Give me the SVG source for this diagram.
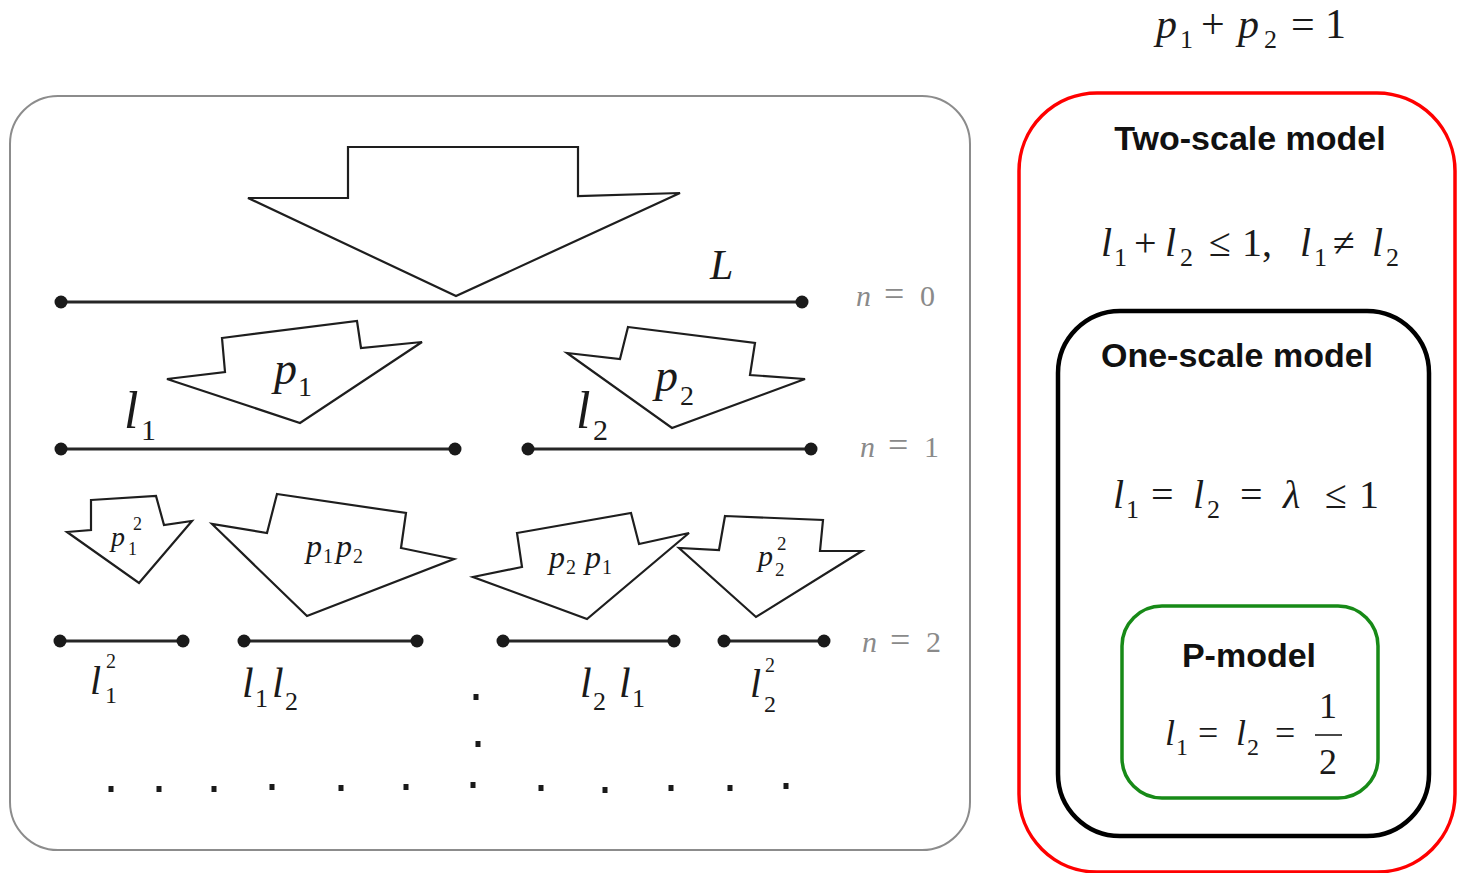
<svg xmlns="http://www.w3.org/2000/svg" width="1460" height="873" viewBox="0 0 1460 873">
<style>
.frame{fill:none;stroke:#8c8c8c;stroke-width:2}
.arr{fill:#fff;stroke:#1e1e1e;stroke-width:2.2;stroke-linejoin:miter}
.seg{stroke:#262626;stroke-width:3}
.dot{fill:#1a1a1a}
.m{font-family:'Liberation Serif','DejaVu Serif',serif;fill:#1a1a1a}
.it{font-style:italic}
.g{fill:#8a8a8a}
.t{font-family:'Liberation Sans',Arial,sans-serif;font-weight:bold;fill:#111;text-anchor:middle;font-size:34px}
.sq{fill:#1a1a1a}
</style>
<defs>
<rect id="sq" x="-2.5" y="-3" width="5" height="6"/>
</defs>
<rect x="0" y="0" width="1460" height="873" fill="#fff"/>

<g id="left-frame">
<rect class="frame" x="10" y="96" width="960" height="754" rx="48"/>
</g>

<g id="connectors">
<polygon class="arr" points="348,147 578,147 578,196 680,193 456,296 248,198 348,198"/>
<polygon class="arr" points="222,338 357,321 361,348 422,342 300,423 167,379 225,372"/>
<polygon class="arr" points="628,327 755,343 750,375 805,379 672,428 567,353 620,359"/>
<polygon class="arr" points="91,500 156,496 164,525 192,521 139,583 67,532 91,530"/>
<polygon class="arr" points="277,494 406,513 401,548 454,559 307,616 212,524 267,533"/>
<polygon class="arr" points="517,533 631,513 639,544 689,533 587,619 473,577 522,567"/>
<polygon class="arr" points="725,516 823,520 820,551 862,551 756,617 679,548 719,550"/>
</g>

<g id="level-0">
<line class="seg" x1="61" y1="302" x2="802" y2="302"/>
<circle class="dot" cx="61" cy="302" r="6.5"/>
<circle class="dot" cx="802" cy="302" r="6.5"/>
<text class="m it" x="710" y="279" font-size="42">L</text>
<text class="m g" font-size="30"><tspan class="it" x="856" y="306">n</tspan><tspan x="884" y="306" font-size="36">=</tspan><tspan x="920" y="306">0</tspan></text>
</g>

<g id="level-1">
<line class="seg" x1="61" y1="449" x2="455" y2="449"/>
<circle class="dot" cx="61" cy="449" r="6.5"/>
<circle class="dot" cx="455" cy="449" r="6.5"/>
<line class="seg" x1="528" y1="449" x2="811" y2="449"/>
<circle class="dot" cx="528" cy="449" r="6.5"/>
<circle class="dot" cx="811" cy="449" r="6.5"/>
<text class="m"><tspan class="it" x="274" y="384" font-size="46">p</tspan><tspan x="298" y="396" font-size="28">1</tspan></text>
<text class="m"><tspan class="it" x="655" y="391" font-size="46">p</tspan><tspan x="680" y="405" font-size="28">2</tspan></text>
<text class="m"><tspan class="it" x="124" y="428" font-size="52">l</tspan><tspan x="141" y="440" font-size="30">1</tspan></text>
<text class="m"><tspan class="it" x="576" y="428" font-size="52">l</tspan><tspan x="593" y="440" font-size="30">2</tspan></text>
<text class="m g" font-size="30"><tspan class="it" x="860" y="457">n</tspan><tspan x="888" y="457" font-size="36">=</tspan><tspan x="924" y="457">1</tspan></text>
</g>

<g id="level-2">
<line class="seg" x1="60" y1="641" x2="183" y2="641"/>
<circle class="dot" cx="60" cy="641" r="6.5"/>
<circle class="dot" cx="183" cy="641" r="6.5"/>
<line class="seg" x1="244" y1="641" x2="417" y2="641"/>
<circle class="dot" cx="244" cy="641" r="6.5"/>
<circle class="dot" cx="417" cy="641" r="6.5"/>
<line class="seg" x1="503" y1="641" x2="674" y2="641"/>
<circle class="dot" cx="503" cy="641" r="6.5"/>
<circle class="dot" cx="674" cy="641" r="6.5"/>
<line class="seg" x1="724" y1="641" x2="824" y2="641"/>
<circle class="dot" cx="724" cy="641" r="6.5"/>
<circle class="dot" cx="824" cy="641" r="6.5"/>
<text class="m"><tspan class="it" x="111" y="546" font-size="28">p</tspan><tspan x="133" y="530" font-size="18">2</tspan><tspan x="128" y="555" font-size="18">1</tspan></text>
<text class="m"><tspan class="it" x="306" y="557" font-size="32">p</tspan><tspan x="323" y="563" font-size="20">1</tspan><tspan class="it" x="336" y="557" font-size="32">p</tspan><tspan x="353" y="563" font-size="20">2</tspan></text>
<text class="m"><tspan class="it" x="549" y="568" font-size="32">p</tspan><tspan x="566" y="574" font-size="20">2</tspan><tspan class="it" x="585" y="568" font-size="32">p</tspan><tspan x="602" y="574" font-size="20">1</tspan></text>
<text class="m"><tspan class="it" x="758" y="566" font-size="30">p</tspan><tspan x="777" y="550" font-size="19">2</tspan><tspan x="775" y="576" font-size="19">2</tspan></text>
<text class="m"><tspan class="it" x="90" y="694" font-size="40">l</tspan><tspan x="106" y="668" font-size="20">2</tspan><tspan x="105" y="703" font-size="24">1</tspan></text>
<text class="m"><tspan class="it" x="242" y="697" font-size="42">l</tspan><tspan x="255" y="707" font-size="26">1</tspan><tspan class="it" x="272" y="697" font-size="42">l</tspan><tspan x="285" y="710" font-size="26">2</tspan></text>
<text class="m"><tspan class="it" x="580" y="697" font-size="42">l</tspan><tspan x="593" y="710" font-size="26">2</tspan><tspan class="it" x="619" y="697" font-size="42">l</tspan><tspan x="632" y="707" font-size="26">1</tspan></text>
<text class="m"><tspan class="it" x="750" y="697" font-size="40">l</tspan><tspan x="765" y="672" font-size="20">2</tspan><tspan x="764" y="712" font-size="24">2</tspan></text>
<text class="m g" font-size="30"><tspan class="it" x="862" y="652">n</tspan><tspan x="890" y="652" font-size="36">=</tspan><tspan x="926" y="652">2</tspan></text>
</g>

<g id="ellipsis">
<use href="#sq" class="sq" x="476" y="697"/>
<use href="#sq" class="sq" x="478" y="744"/>
<use href="#sq" class="sq" x="111" y="789"/>
<use href="#sq" class="sq" x="159" y="789"/>
<use href="#sq" class="sq" x="214" y="789"/>
<use href="#sq" class="sq" x="272" y="787"/>
<use href="#sq" class="sq" x="341" y="788"/>
<use href="#sq" class="sq" x="406" y="787"/>
<use href="#sq" class="sq" x="473" y="785"/>
<use href="#sq" class="sq" x="541" y="788"/>
<use href="#sq" class="sq" x="605" y="790"/>
<use href="#sq" class="sq" x="671" y="788"/>
<use href="#sq" class="sq" x="730" y="788"/>
<use href="#sq" class="sq" x="786" y="786"/>
</g>

<g id="sum-equation">
<text class="m" font-size="42"><tspan class="it" x="1156" y="38">p</tspan><tspan x="1180" y="48" font-size="26">1</tspan><tspan x="1201" y="38">+</tspan><tspan class="it" x="1238" y="38">p</tspan><tspan x="1264" y="48" font-size="26">2</tspan><tspan x="1291" y="38">=</tspan><tspan x="1325" y="38">1</tspan></text>
</g>

<g id="two-scale-model">
<rect x="1019" y="93" width="436" height="779" rx="78" fill="none" stroke="#ff0000" stroke-width="3.5"/>
<text class="t" x="1250" y="150">Two-scale model</text>
<text class="m" font-size="40"><tspan class="it" x="1101" y="256">l</tspan><tspan x="1114" y="266" font-size="26">1</tspan><tspan x="1134" y="256">+</tspan><tspan class="it" x="1165" y="256">l</tspan><tspan x="1180" y="266" font-size="26">2</tspan><tspan x="1209" y="256">≤</tspan><tspan x="1242" y="256">1,</tspan><tspan class="it" x="1300" y="256">l</tspan><tspan x="1314" y="266" font-size="26">1</tspan><tspan x="1333" y="256">≠</tspan><tspan class="it" x="1372" y="256">l</tspan><tspan x="1386" y="266" font-size="26">2</tspan></text>
</g>

<g id="one-scale-model">
<rect x="1058" y="311" width="371" height="525" rx="62" fill="none" stroke="#000" stroke-width="4.5"/>
<text class="t" x="1237" y="367">One-scale model</text>
<text class="m" font-size="40"><tspan class="it" x="1113" y="508">l</tspan><tspan x="1126" y="518" font-size="26">1</tspan><tspan x="1151" y="508">=</tspan><tspan class="it" x="1193" y="508">l</tspan><tspan x="1207" y="518" font-size="26">2</tspan><tspan x="1240" y="508">=</tspan><tspan class="it" x="1283" y="508">λ</tspan><tspan x="1325" y="508">≤</tspan><tspan x="1359" y="508">1</tspan></text>
</g>

<g id="p-model">
<rect x="1122" y="606" width="256" height="192" rx="40" fill="none" stroke="#178a17" stroke-width="3.5"/>
<text class="t" x="1249" y="667">P-model</text>
<text class="m" font-size="36"><tspan class="it" x="1165" y="745">l</tspan><tspan x="1176" y="755" font-size="24">1</tspan><tspan x="1198" y="745">=</tspan><tspan class="it" x="1236" y="745">l</tspan><tspan x="1247" y="755" font-size="24">2</tspan><tspan x="1275" y="745">=</tspan></text>
<text class="m" font-size="36" x="1328" y="718" text-anchor="middle">1</text>
<line x1="1315" y1="735" x2="1342" y2="735" stroke="#1a1a1a" stroke-width="1.6"/>
<text class="m" font-size="36" x="1328" y="774" text-anchor="middle">2</text>
</g>
</svg>
